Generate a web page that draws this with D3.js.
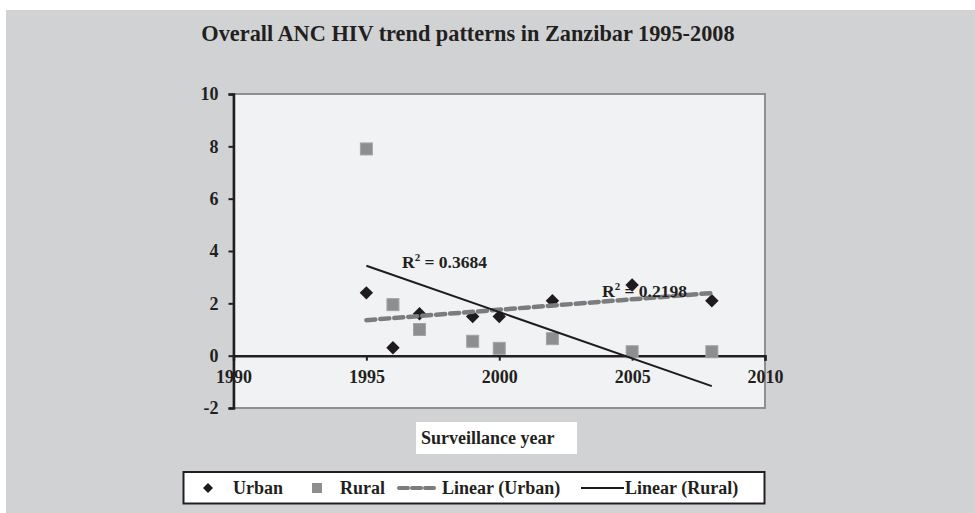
<!DOCTYPE html>
<html><head><meta charset="utf-8">
<script src="https://cdn.jsdelivr.net/npm/d3@7"></script>
<style>
html,body{margin:0;padding:0;background:#fff;}
svg{display:block;}
text{font-family:"Liberation Serif","Times New Roman",serif;font-weight:bold;fill:#231f20;}
</style></head>
<body>
<svg id="chart" width="975" height="513"></svg>
<script>
const years = [1995, 1996, 1997, 1999, 2000, 2002, 2005, 2008];
const urban = [2.4, 0.3, 1.6, 1.5, 1.5, 2.1, 2.7, 2.1];
const rural = [7.9, 1.95, 1.0, 0.55, 0.28, 0.65, 0.15, 0.15];
const yTicks = [-2, 0, 2, 4, 6, 8, 10];
const xTicks = [1990, 1995, 2000, 2005, 2010];
const r2Labels = ["0.3684", "0.2198"];
const legendLabels = ["Urban", "Rural", "Linear (Urban)", "Linear (Rural)"];

const svg = d3.select("#chart");
const W = 975, H = 513;

// outer gray panel
svg.append("rect").attr("x", 6).attr("y", 10).attr("width", W - 6).attr("height", H - 10).attr("fill", "#d1d2d4");

const x = d3.scaleLinear().domain([1990, 2010]).range([233.5, 765]);
const y = d3.scaleLinear().domain([-2, 10]).range([408, 94]);

// title
svg.append("text").attr("x", 468).attr("y", 41).attr("text-anchor", "middle")
  .style("font-size", "22.3px").text("Overall ANC HIV trend patterns in Zanzibar 1995-2008");

// plot area
svg.append("rect").attr("x", x(1990)).attr("y", y(10)).attr("width", x(2010) - x(1990)).attr("height", y(-2) - y(10))
  .attr("fill", "#f1f2f4").attr("stroke", "#8e8f91").attr("stroke-width", 2);

// x-axis at y=0
const xAxis = d3.axisBottom(x).tickValues(xTicks).tickFormat(d => String(d)).tickSize(5).tickPadding(10);
const gx = svg.append("g").attr("transform", `translate(0,${y(0)})`).call(xAxis);
gx.select(".domain").attr("stroke", "#231f20").attr("stroke-width", 2.5);
gx.selectAll(".tick line").attr("stroke", "#231f20").attr("stroke-width", 2);
gx.selectAll(".tick text").style("font-size", "18px").attr("fill", "#231f20").attr("font-family", null);

// y-axis
const yAxis = d3.axisLeft(y).tickValues(yTicks).tickFormat(d => String(d)).tickSize(5).tickPadding(10);
const gy = svg.append("g").attr("transform", `translate(${x(1990)},0)`).call(yAxis);
gy.select(".domain").attr("stroke", "#231f20").attr("stroke-width", 2.5);
gy.selectAll(".tick line").attr("stroke", "#231f20").attr("stroke-width", 2);
gy.selectAll(".tick text").style("font-size", "18px").attr("fill", "#231f20").attr("font-family", null);
gy.raise();

// markers
const plot = svg.append("g");
plot.selectAll(".urb").data(years.map((yr, i) => [yr, urban[i]])).join("path")
  .attr("d", d3.symbol().type(d3.symbolSquare).size(90)).attr("fill", "#1e1b1c")
  .attr("transform", d => `translate(${x(d[0])},${y(d[1])}) rotate(45)`);
plot.selectAll(".rur").data(years.map((yr, i) => [yr, rural[i]])).join("rect")
  .attr("x", d => x(d[0]) - 6).attr("y", d => y(d[1]) - 6).attr("width", 12).attr("height", 12)
  .attr("fill", "#8d8e90").attr("stroke", "#a3a4a6").attr("stroke-width", 1);

// linear trend lines (least squares)
function fit(xs, ys) {
  const n = xs.length, mx = d3.mean(xs), my = d3.mean(ys);
  let sxy = 0, sxx = 0;
  for (let i = 0; i < n; i++) { sxy += (xs[i] - mx) * (ys[i] - my); sxx += (xs[i] - mx) ** 2; }
  const b = sxy / sxx, a = my - b * mx;
  return v => a + b * v;
}
const fU = fit(years, urban), fR = fit(years, rural);
const x0 = d3.min(years), x1 = d3.max(years);
const line = d3.line().x(d => x(d[0])).y(d => y(d[1]));
svg.append("path").attr("d", line([[x0, fU(x0)], [x1, fU(x1)]]))
  .attr("fill", "none").attr("stroke", "#7b7c7e").attr("stroke-width", 4.5)
  .attr("stroke-dasharray", "9,5").attr("stroke-linecap", "round");
svg.append("path").attr("d", line([[x0, fR(x0)], [x1, fR(x1)]]))
  .attr("fill", "none").attr("stroke", "#1e1b1c").attr("stroke-width", 2);

// R² labels
function r2(xp, yp, val) {
  const t = svg.append("text").attr("x", xp).attr("y", yp).style("font-size", "17.5px");
  t.append("tspan").text("R");
  t.append("tspan").attr("dy", -7).style("font-size", "11px").text("2");
  t.append("tspan").attr("dy", 7).text(" = " + val);
}
r2(402, 268, r2Labels[0]);
r2(602, 297, r2Labels[1]);

// axis title box
svg.append("rect").attr("x", 416).attr("y", 422).attr("width", 161).attr("height", 32).attr("fill", "#fff");
svg.append("text").attr("x", 421).attr("y", 444).style("font-size", "18px").text("Surveillance year");

// legend
svg.append("rect").attr("x", 183.5).attr("y", 472).attr("width", 581).attr("height", 31.5)
  .attr("fill", "#fff").attr("stroke", "#231f20").attr("stroke-width", 2);
const ly = 488;
svg.append("path").attr("d", d3.symbol().type(d3.symbolSquare).size(50)).attr("fill", "#1e1b1c")
  .attr("transform", `translate(208,${ly}) rotate(45)`);
svg.append("text").attr("x", 233).attr("y", ly + 6).style("font-size", "18px").text(legendLabels[0]);
svg.append("rect").attr("x", 312).attr("y", ly - 5).attr("width", 10).attr("height", 10).attr("fill", "#8d8e90");
svg.append("text").attr("x", 340).attr("y", ly + 6).style("font-size", "18px").text(legendLabels[1]);
svg.append("line").attr("x1", 399).attr("x2", 435).attr("y1", ly).attr("y2", ly)
  .attr("stroke", "#7b7c7e").attr("stroke-width", 4).attr("stroke-dasharray", "9,4").attr("stroke-linecap", "round");
svg.append("text").attr("x", 442).attr("y", ly + 6).style("font-size", "18px").text(legendLabels[2]);
svg.append("line").attr("x1", 581).attr("x2", 624).attr("y1", ly).attr("y2", ly)
  .attr("stroke", "#1e1b1c").attr("stroke-width", 1.8);
svg.append("text").attr("x", 625).attr("y", ly + 6).style("font-size", "18px").text(legendLabels[3]);
</script>
</body></html>
